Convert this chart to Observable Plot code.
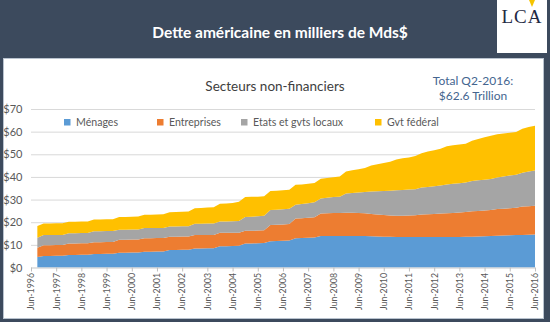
<!DOCTYPE html>
<html>
<head>
<meta charset="utf-8">
<script src="https://cdn.jsdelivr.net/npm/d3@7"></script>
<script src="https://cdn.jsdelivr.net/npm/@observablehq/plot@0.6"></script>
<style>
  html, body { margin: 0; padding: 0; }
  body { width: 550px; height: 322px; background: #3c4a5d; position: relative; overflow: hidden; font-family: Lato, "Open Sans", sans-serif; }
  #panel { position: absolute; left: 3px; top: 58px; width: 541px; height: 261px; background: #fff; border: 1px solid #b9c3cf; box-sizing: border-box; }
  #chart { position: absolute; left: 0; top: 60px; }
  #overlay { position: absolute; left: 0; top: 0; pointer-events: none; }
</style>
</head>
<body>
<div id="panel"></div>
<div id="chart"></div>
<svg id="overlay" width="550" height="322" xmlns="http://www.w3.org/2000/svg">
  <text x="280" y="38" text-anchor="middle" fill="#ffffff" font-family="Lato, sans-serif" font-weight="bold" font-size="15.5">Dette américaine en milliers de Mds$</text>
  <rect x="497" y="0" width="50" height="53" fill="#ffffff"></rect>
  <polygon points="529,0 535,0 532,7" fill="#f5c400"></polygon>
  <text x="522" y="23" text-anchor="middle" fill="#1f2a44" font-family="'Liberation Serif', 'DejaVu Serif', serif" font-size="19" letter-spacing="1">LCA</text>
  <text x="275" y="90.5" text-anchor="middle" fill="#404040" font-family="Lato, sans-serif" font-size="13.5">Secteurs non-financiers</text>
  <text x="473" y="85" text-anchor="middle" fill="#44658f" font-family="Lato, sans-serif" font-size="12">Total Q2-2016:</text>
  <text x="473" y="100" text-anchor="middle" fill="#44658f" font-family="Lato, sans-serif" font-size="12">$62.6 Trillion</text>
  <g id="legend" font-family="Lato, sans-serif" font-size="10.6" fill="#595959"></g>
</svg>
<script>
// Series names and colours
const seriesNames = ["Ménages", "Entreprises", "Etats et gvts locaux", "Gvt fédéral"];
const seriesColors = ["#5b9bd5", "#ed7d31", "#a5a5a5", "#ffc000"];

// Quarterly observations, Sep-1996 … Jun-2016 (thousands of billions $)
const menages = [4.6,
  5.1,5.1,5.2,5.2, 5.5,5.5,5.6,5.6, 6.0,6.0,6.1,6.1, 6.5,6.5,6.6,6.6, 7.0,7.0,7.1,7.1,
  7.7,7.7,7.8,7.8, 8.4,8.4,8.5,8.5, 9.4,9.4,9.5,9.6, 10.6,10.6,10.7,10.8, 11.6,11.7,11.8,11.9,
  12.9,13.0,13.1,13.2, 13.9,13.9,13.9,13.9, 13.9,13.9,13.9,13.9, 13.8,13.7,13.6,13.6, 13.5,13.5,13.5,13.5,
  13.5,13.5,13.5,13.5, 13.5,13.5,13.5,13.6, 13.6,13.7,13.8,13.9, 14.0,14.1,14.2,14.3,
  14.4,14.5,14.6];
const entreprises = [4.1,
  4.7,4.7,4.7,4.7, 5.1,5.1,5.1,5.1, 5.2,5.2,5.2,5.2, 5.8,5.8,5.8,5.8, 5.9,5.9,5.9,5.9,
  5.9,5.9,5.9,5.9, 5.9,5.9,5.9,5.9, 5.9,5.9,5.9,5.8, 5.6,5.6,5.6,5.6, 7.2,7.2,7.2,7.3,
  8.7,8.8,8.9,9.0, 10.0,10.1,10.2,10.2, 10.3,10.3,10.2,10.1, 9.8,9.7,9.6,9.4, 9.4,9.4,9.5,9.6,
  9.9,10.0,10.1,10.3, 10.5,10.6,10.8,10.9, 11.2,11.3,11.4,11.5, 11.8,11.9,12.0,12.1,
  12.5,12.6,12.7];
const etats = [4.4,
  4.5,4.5,4.5,4.5, 4.5,4.5,4.5,4.5, 4.8,4.8,4.8,4.8, 4.4,4.4,4.4,4.4, 4.5,4.5,4.5,4.5,
  4.5,4.5,4.5,4.5, 5.0,5.0,5.0,5.0, 5.0,5.0,5.0,5.1, 6.1,6.2,6.3,6.4, 6.6,6.6,6.7,6.7,
  6.1,6.2,6.4,6.6, 6.6,6.8,7.0,7.2, 8.5,8.7,9.0,9.3, 10.0,10.3,10.6,10.9, 11.2,11.3,11.4,11.5,
  11.9,12.1,12.3,12.4, 12.7,12.9,12.9,13.0, 13.4,13.5,13.6,13.7, 14.0,14.2,14.4,14.6,
  15.0,15.3,15.5];
const federal = [5.2,
  5.1,5.1,5.1,5.1, 5.1,5.1,5.1,5.1, 5.2,5.2,5.2,5.2, 5.6,5.6,5.6,5.7, 5.9,5.9,5.9,6.0,
  6.3,6.4,6.4,6.5, 6.9,7.0,7.1,7.2, 7.9,8.0,8.1,8.5, 8.8,8.8,8.7,8.7, 8.4,8.4,8.4,8.4,
  8.8,8.7,8.6,8.5, 8.7,8.7,8.8,8.9, 9.7,10.0,10.3,10.6, 11.4,11.9,12.4,12.8, 13.6,14.0,14.2,14.6,
  15.2,15.6,15.9,16.3, 16.8,17.0,17.1,17.2, 17.8,18.3,18.7,19.1, 19.0,19.0,18.9,18.8,
  19.4,19.6,19.8];
const seriesValues = [menages, entreprises, etats, federal];

// Axis ticks
const yTicks = [0, 10, 20, 30, 40, 50, 60, 70];
const tickYears = d3.range(1996, 2017);

const quarters = d3.utcMonth.range(new Date(Date.UTC(1996, 8, 1)), new Date(Date.UTC(2016, 6, 1)), 3);
const xTicks = tickYears.map(y => new Date(Date.UTC(y, 5, 1)));

const rows = [];
seriesNames.forEach((name, i) => {
  quarters.forEach((q, j) => rows.push({date: q, series: name, value: seriesValues[i][j]}));
});

const chart = Plot.plot({
  width: 550,
  height: 262,
  marginLeft: 31,
  marginRight: 15,
  marginTop: 49,
  marginBottom: 54.5,
  style: {background: "transparent", fontFamily: "Lato, sans-serif", color: "#595959", overflow: "visible"},
  x: {type: "utc", domain: [xTicks[0], xTicks[xTicks.length - 1]]},
  y: {domain: [0, 70]},
  color: {domain: seriesNames, range: seriesColors},
  marks: [
    Plot.gridY(yTicks, {stroke: "#d9d9d9", strokeOpacity: 1}),
    Plot.areaY(rows, {x: "date", y: "value", fill: "series", order: seriesNames}),
    Plot.ruleY([0], {stroke: "#d9d9d9"}),
    Plot.axisY(yTicks, {tickSize: 0, tickPadding: 9, tickFormat: d => "$" + d, fontSize: 11, label: null, fill: "#595959"}),
    Plot.axisX(xTicks, {tickSize: 4, tickPadding: 1, tickRotate: -90, tickFormat: d3.utcFormat("%b-%Y"), fontSize: 8.8, label: null, stroke: "#bfbfbf", fill: "#595959"})
  ]
});
document.getElementById("chart").appendChild(chart);

// Legend
const legendX = [64, 157, 241, 375];
const lg = d3.select("#legend");
seriesNames.forEach((name, i) => {
  lg.append("rect").attr("x", legendX[i]).attr("y", 119).attr("width", 6.5).attr("height", 6.5).attr("fill", seriesColors[i]);
  lg.append("text").attr("x", legendX[i] + 12).attr("y", 126).text(name);
});
</script>
</body>
</html>
